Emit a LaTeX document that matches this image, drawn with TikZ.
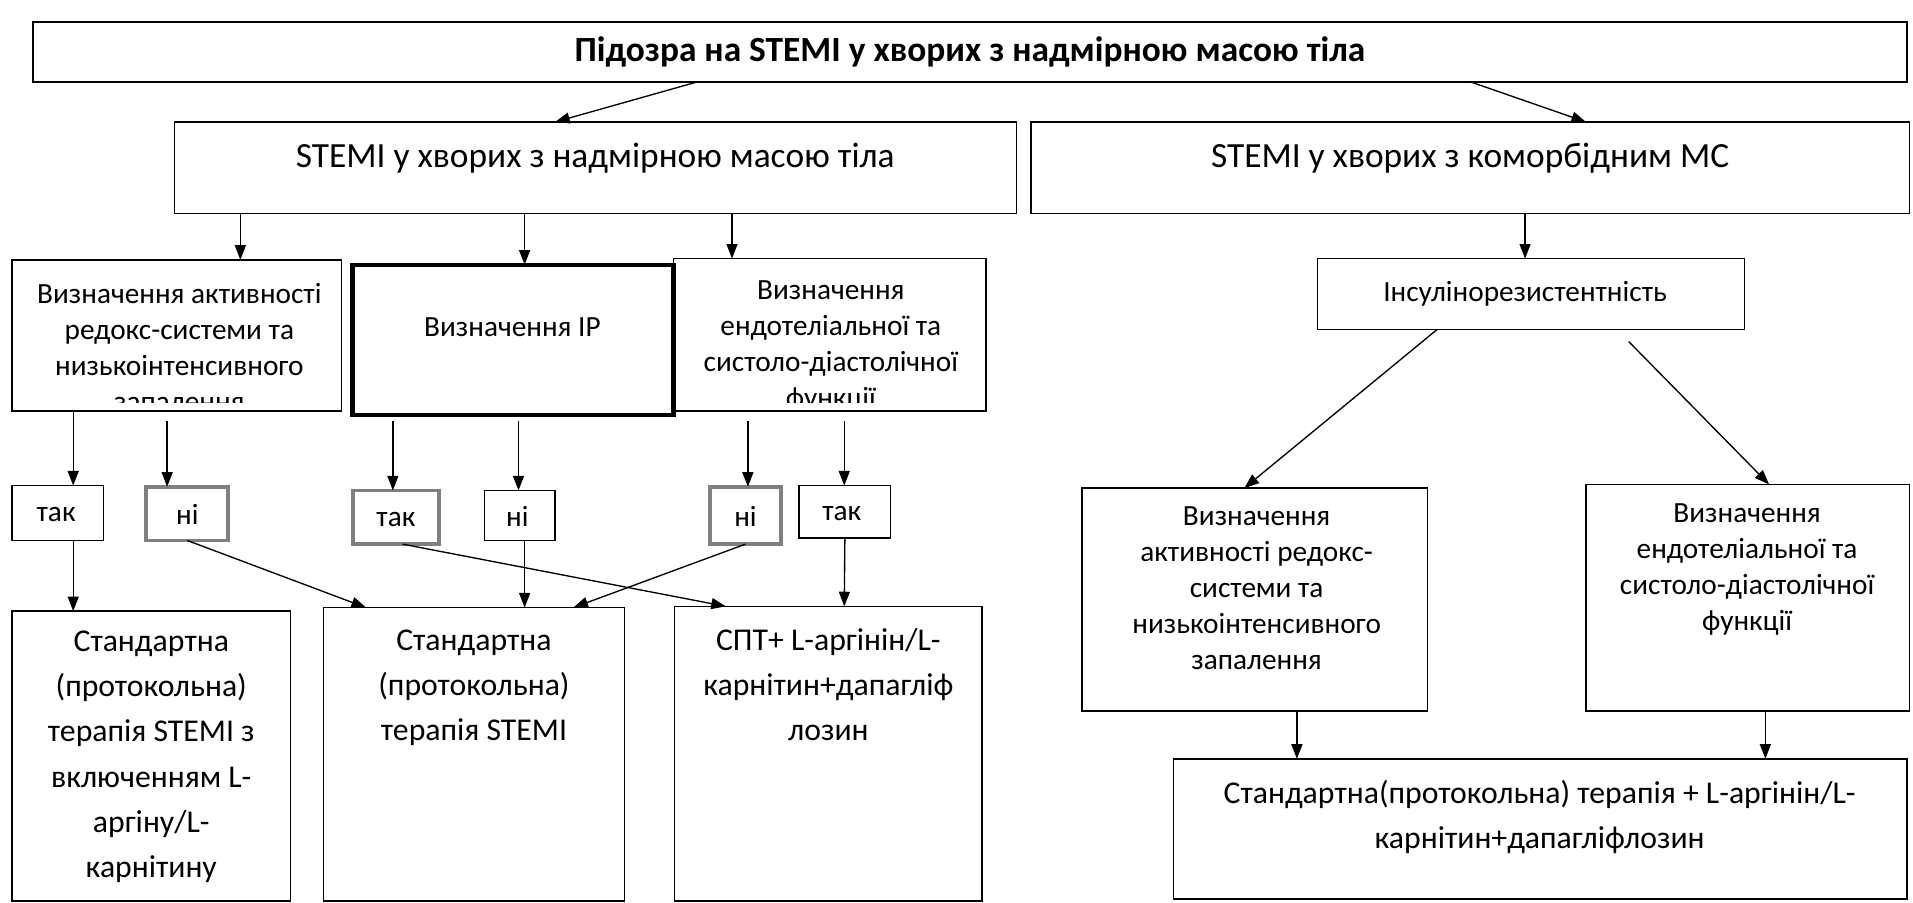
\documentclass[tikz,border=0pt]{standalone}
\usepackage{fontspec}
\setmainfont{Carlito}
\usetikzlibrary{arrows.meta}
\definecolor{graybd}{HTML}{808080}
\begin{document}
\begin{tikzpicture}[x=1pt,y=-1pt,
  box/.style={draw, line width=1.3pt, inner sep=0pt, outer sep=0pt},
  thickbox/.style={draw, line width=3.6pt, inner sep=0pt, outer sep=0pt},
  graybox/.style={draw=graybd, line width=3.2pt, inner sep=0pt, outer sep=0pt},
  arr/.style={-{Triangle[length=12pt,width=9pt]}, line width=1.1pt},
  t24/.style={inner sep=0pt, align=center, font=\fontsize{24}{29.5}\selectfont},
  t26/.style={inner sep=0pt, align=center, font=\fontsize{26}{37}\selectfont},
  t29/.style={inner sep=0pt, align=center, font=\fontsize{29}{34}\selectfont},
  tbold/.style={inner sep=0pt, align=center, font=\fontsize{29}{34}\selectfont\bfseries},
]
\useasboundingbox (0,0) rectangle (1568,740);

% boxes
\node[box, minimum width=1536pt, minimum height=49pt] (top) at (795,42.5) {};
\node[box, minimum width=690pt, minimum height=75pt] (A) at (488,137.5) {};
\node[box, minimum width=720pt, minimum height=75pt] (B) at (1205,137.5) {};
\node[box, minimum width=270pt, minimum height=124pt] (C1) at (145,275) {};
\node[box, minimum width=256pt, minimum height=125pt] (C3) at (680,274.5) {};
\node[thickbox, minimum width=263pt, minimum height=123pt] (C2) at (420.5,278.5) {};
\node[box, minimum width=350pt, minimum height=58pt] (D) at (1255,241) {};

\node[box, minimum width=75pt, minimum height=45pt] (tak1) at (47.5,420.5) {};
\node[graybox, minimum width=67pt, minimum height=44pt] (ni1) at (153.5,421) {};
\node[graybox, minimum width=71pt, minimum height=44pt] (tak2) at (324.5,424) {};
\node[box, minimum width=58pt, minimum height=41pt] (ni2) at (426,422.5) {};
\node[graybox, minimum width=58pt, minimum height=47pt] (ni3) at (611,422.5) {};
\node[box, minimum width=75pt, minimum height=43pt] (tak3) at (692.5,419.5) {};

\node[box, minimum width=228pt, minimum height=237.5pt] (E1) at (124,619.75) {};
\node[box, minimum width=247pt, minimum height=240.5pt] (E2) at (388.5,618.25) {};
\node[box, minimum width=252pt, minimum height=241.5pt] (E3) at (679,617.75) {};
\node[box, minimum width=283pt, minimum height=183pt] (F1) at (1028.5,491.5) {};
\node[box, minimum width=265pt, minimum height=186pt] (F2) at (1432.5,490) {};
\node[box, minimum width=601pt, minimum height=115pt] (G) at (1262.5,679.5) {};

% texts
\node[tbold] (ttop) at (795,42.5) {Підозра на STEMI у хворих з надмірною масою тіла};
\node[t29] (tA) at (488,130) {STEMI у хворих з надмірною масою тіла};
\node[t29] (tB) at (1205,130) {STEMI у хворих з коморбідним МС};
\begin{scope}
\clip (10,213) rectangle (280,330);
\node[t24, anchor=north] (tC1) at (147,232) {Визначення активності\\редокс-системи та\\низькоінтенсивного\\запалення};
\end{scope}
\node[t24] (tC2) at (420,268) {Визначення ІР};
\begin{scope}
\clip (552,212) rectangle (808,330);
\node[t24, anchor=north] (tC3) at (681,230) {Визначення\\ендотеліальної та\\систоло-діастолічної\\функції};
\end{scope}
\node[t24] (tD) at (1250,241) {Інсулінорезистентність};

\node[t24] (ttak1) at (46,422) {так};
\node[t24] (tni1) at (153.5,422) {ні};
\node[t24] (ttak2) at (324.5,426) {так};
\node[t24] (tni2) at (424,423) {ні};
\node[t24] (tni3) at (611,423) {ні};
\node[t24] (ttak3) at (690,421) {так};

\node[t26, anchor=north] (tE1) at (124,517) {Стандартна\\(протокольна)\\терапія STEMI з\\включенням L-\\аргіну/L-\\карнітину};
\node[t26, anchor=north] (tE2) at (388.5,516) {Стандартна\\(протокольна)\\терапія STEMI};
\node[t26, anchor=north] (tE3) at (679,515) {СПТ+ L-аргінін/L-\\карнітин+дапагліф\\лозин};
\node[t24, anchor=north] (tF1) at (1030,415) {Визначення\\активності редокс-\\системи та\\низькоінтенсивного\\запалення};
\node[t24, anchor=north] (tF2) at (1432,413) {Визначення\\ендотеліальної та\\систоло-діастолічної\\функції};
\node[t26, anchor=north] (tG) at (1262,639) {Стандартна(протокольна) терапія + L-аргінін/L-\\карнітин+дапагліфлозин};

% connectors
\draw[arr] ([xshift=-223pt]top.south) -- ([xshift=-33pt]A.north);
\draw[arr] ([xshift=410pt]top.south) -- ([xshift=95pt]B.north);
\draw[arr] ([xshift=-291pt]A.south) -- ([xshift=52pt]C1.north);
\draw[arr] ([xshift=-58pt]A.south) -- ([xshift=9.5pt]C2.north);
\draw[arr] ([xshift=112pt]A.south) -- ([xshift=-80pt]C3.north);
\draw[arr] ([xshift=45pt]B.south) -- ([xshift=-5pt]D.north);

\draw[arr] ([xshift=-85pt]C1.south) -- ([xshift=12.5pt]tak1.north);
\draw[arr] ([xshift=-8pt,yshift=-8pt]C1.south) -- ([xshift=-16.5pt]ni1.north);
\draw[arr] ([xshift=-98.5pt,yshift=-5pt]C2.south) -- ([xshift=-2.5pt]tak2.north);
\draw[arr] ([xshift=4.5pt,yshift=-5pt]C2.south) -- ([xshift=-1pt]ni2.north);
\draw[arr] ([xshift=-67pt,yshift=-8pt]C3.south) -- ([xshift=2pt]ni3.north);
\draw[arr] ([xshift=12pt,yshift=-8pt]C3.south) -- ([xshift=-0.5pt]tak3.north);

\draw[arr] ([xshift=12.5pt]tak1.south) -- ([xshift=-64pt]E1.north);
\draw[arr] (ni1.south) -- ([xshift=-88.5pt]E2.north);
\draw[arr] ([xshift=5.5pt]tak2.south) -- ([xshift=-84pt]E3.north);
\draw[arr] ([xshift=4pt]ni2.south) -- ([xshift=41.5pt]E2.north);
\draw[arr] (ni3.south) -- ([xshift=81.5pt]E2.north);
\draw[arr] (tak3.south) -- ([xshift=13pt]E3.north);

\draw[arr] ([xshift=-77pt]D.south) -- ([xshift=-8.5pt]F1.north);
\draw[arr] ([xshift=80pt,yshift=-10pt]D.south) -- ([xshift=17.5pt]F2.north);
\draw[arr] ([xshift=34.5pt]F1.south) -- ([xshift=-199.5pt]G.north);
\draw[arr] ([xshift=14.5pt]F2.south) -- ([xshift=184.5pt]G.north);
\end{tikzpicture}
\end{document}
